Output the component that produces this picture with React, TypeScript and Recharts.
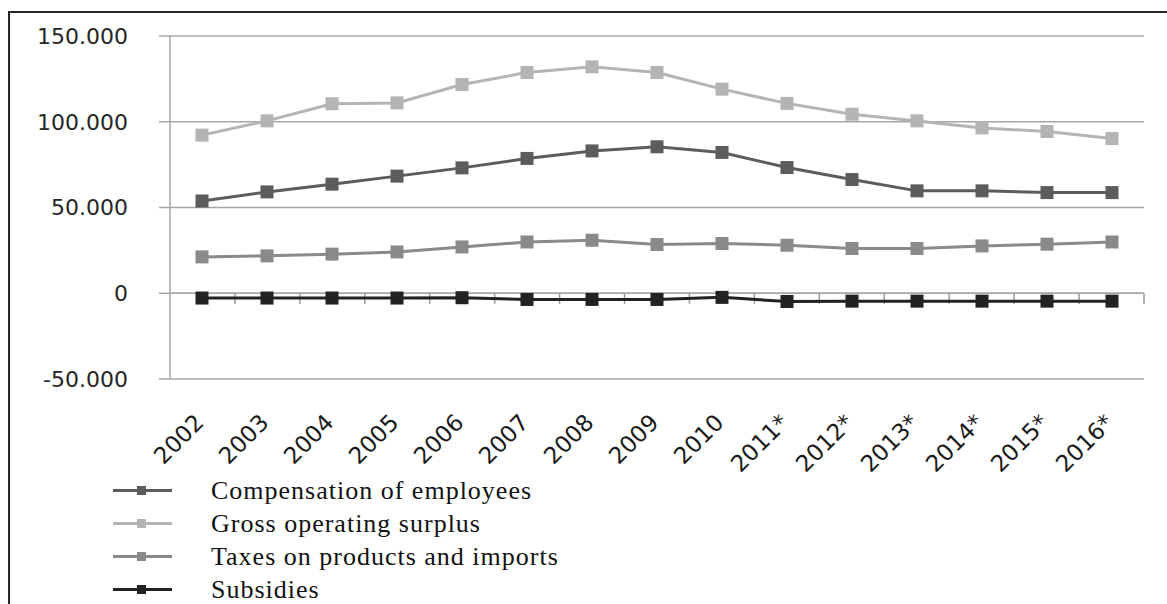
import React from "react";
import {
  LineChart,
  Line,
  XAxis,
  YAxis,
  CartesianGrid,
  Legend,
  ReferenceLine,
} from "recharts";

const years = [
  "2002", "2003", "2004", "2005", "2006", "2007", "2008", "2009",
  "2010", "2011*", "2012*", "2013*", "2014*", "2015*", "2016*",
];

const compensation = [
  53800, 59100, 63600, 68300, 73100, 78600, 83000, 85400,
  82100, 73300, 66300, 59700, 59700, 58700, 58700,
];
const grossSurplus = [
  92200, 100500, 110500, 111000, 121700, 128700, 132000, 128700,
  119000, 110700, 104400, 100500, 96400, 94300, 90200,
];
const taxes = [
  21200, 21800, 22800, 24100, 27000, 29900, 30900, 28400,
  29000, 28000, 26100, 26100, 27600, 28600, 29900,
];
const subsidies = [
  -2800, -2800, -2800, -2800, -2600, -3600, -3600, -3600,
  -2400, -4800, -4600, -4600, -4600, -4600, -4600,
];

const yTicks = [-50000, 0, 50000, 100000, 150000];

const series = [
  { key: "comp", name: "Compensation of employees", color: "#5c5c5c" },
  { key: "gross", name: "Gross operating surplus", color: "#b4b4b4" },
  { key: "taxes", name: "Taxes on products and imports", color: "#8a8a8a" },
  { key: "subs", name: "Subsidies", color: "#222222" },
];

const data = years.map((year, i) => ({
  year,
  pos: i + 0.5,
  comp: compensation[i],
  gross: grossSurplus[i],
  taxes: taxes[i],
  subs: subsidies[i],
}));

const gridColor = "#a6a6a6";

const fmt = (v: number) =>
  v === 0 ? "0" : (v < 0 ? "-" : "") + (Math.abs(v) / 1000).toFixed(3);

const SquareDot = (color: string) => (props: any) => {
  const { cx, cy, index } = props;
  if (cx == null || cy == null) return <g key={index} />;
  return (
    <rect key={index} x={cx - 6.5} y={cy - 6.5} width={13} height={13} fill={color} />
  );
};

const YearTick = (props: any) => {
  const { x, y, payload } = props;
  return (
    <g transform={`translate(${x + 3},${y + 45})`}>
      <text
        textAnchor="end"
        transform="rotate(-45)"
        fontFamily="DejaVu Sans"
        fontSize={23}
        fill="#1a1a1a"
      >
        {payload.value}
      </text>
    </g>
  );
};

const LegendBox = () => (
  <div style={{ height: 120, width: 700 }}>
    {series.map((s) => (
      <div
        key={s.key}
        style={{ height: 33, display: "flex", alignItems: "center" }}
      >
        <svg width={201} height={33} style={{ flex: "none" }}>
          <line x1={103} x2={162} y1={16.5} y2={16.5} stroke={s.color} strokeWidth={3} />
          <rect x={127} y={12} width={9} height={9} fill={s.color} />
        </svg>
        <span
          style={{
            fontFamily: "'Liberation Serif', serif",
            fontSize: 26,
            letterSpacing: 1,
            color: "#111",
            lineHeight: "33px",
          }}
        >
          {s.name}
        </span>
      </div>
    ))}
  </div>
);

export default function App() {
  return (
    <div
      style={{
        position: "absolute",
        left: 8,
        top: 11,
        borderLeft: "2px solid #262626",
        borderTop: "2px solid #262626",
      }}
    >
      <LineChart
        width={1157}
        height={591}
        data={data}
        margin={{ top: 23, right: 23, bottom: 0, left: 0 }}
      >
        <CartesianGrid vertical={false} stroke={gridColor} strokeWidth={1.5} />
        <XAxis
          dataKey="year"
          axisLine={false}
          tickLine={false}
          tickSize={0}
          tickMargin={0}
          interval={0}
          height={105}
          padding={{ left: 32, right: 32 }}
          tick={<YearTick />}
        />
        {/* numeric helper axis for the boundary ticks on the zero line */}
        <XAxis
          xAxisId="n"
          dataKey="pos"
          type="number"
          domain={[0, 15]}
          allowDataOverflow
          hide
        />
        <YAxis
          width={160}
          domain={[-50000, 150000]}
          ticks={yTicks}
          tickFormatter={fmt}
          tickSize={11}
          tickMargin={31}
          axisLine={{ stroke: gridColor, strokeWidth: 1.5 }}
          tickLine={{ stroke: gridColor, strokeWidth: 1.5 }}
          tick={{ fontFamily: "DejaVu Sans", fontSize: 22, fill: "#262626" }}
        />
        <ReferenceLine y={0} stroke={gridColor} strokeWidth={1.5} />
        {years.map((_, i) => (
          <ReferenceLine
            key={i}
            xAxisId="n"
            ifOverflow="visible"
            segment={[
              { x: i + 1, y: 0 },
              { x: i + 1, y: -6200 },
            ]}
            stroke="#9a9a9a"
            strokeWidth={1.5}
          />
        ))}
        {series.map((s) => (
          <Line
            key={s.key}
            dataKey={s.key}
            name={s.name}
            type="linear"
            stroke={s.color}
            strokeWidth={3}
            dot={SquareDot(s.color)}
            activeDot={false}
            isAnimationActive={false}
          />
        ))}
        <Legend
          content={<LegendBox />}
          verticalAlign="bottom"
          wrapperStyle={{ top: 461, left: 0, width: 700, height: 120 }}
        />
      </LineChart>
    </div>
  );
}
